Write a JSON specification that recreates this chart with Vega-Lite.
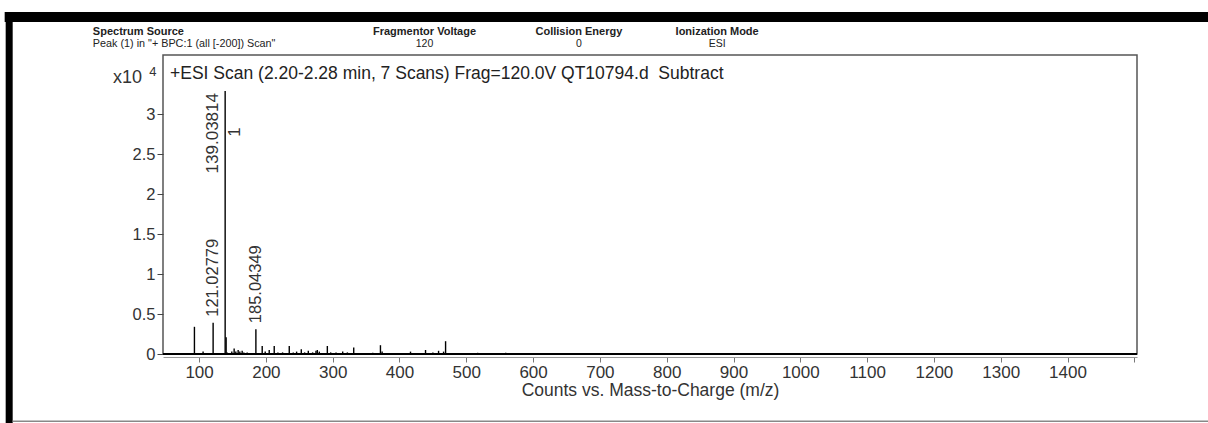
{
  "$schema": "https://vega.github.io/schema/vega-lite/v6.json",
  "width": 974,
  "height": 299,
  "autosize": {"type": "none"},
  "padding": {"left": 163, "top": 55, "right": 71, "bottom": 69},
  "background": "white",
  "config": {
    "font": "Liberation Sans",
    "view": {"stroke": "#555", "strokeWidth": 1.5}
  },
  "datasets": {
    "peaks": [
      {"mz": 52, "intensity": 0.008},
      {"mz": 60, "intensity": 0.01},
      {"mz": 70, "intensity": 0.008},
      {"mz": 80, "intensity": 0.012},
      {"mz": 93.05, "intensity": 0.34},
      {"mz": 106, "intensity": 0.03},
      {"mz": 110, "intensity": 0.01},
      {"mz": 121.02779, "intensity": 0.39, "label": "121.02779"},
      {"mz": 139.03814, "intensity": 3.2875, "label": "139.03814", "tag": "1"},
      {"mz": 140.5, "intensity": 0.21},
      {"mz": 142, "intensity": 0.02},
      {"mz": 149, "intensity": 0.03},
      {"mz": 152.5, "intensity": 0.07},
      {"mz": 155, "intensity": 0.03},
      {"mz": 158.5, "intensity": 0.05},
      {"mz": 161, "intensity": 0.03},
      {"mz": 164.5, "intensity": 0.04},
      {"mz": 167, "intensity": 0.02},
      {"mz": 172, "intensity": 0.02},
      {"mz": 185.04349, "intensity": 0.31, "label": "185.04349"},
      {"mz": 194.5, "intensity": 0.1},
      {"mz": 199, "intensity": 0.03},
      {"mz": 205, "intensity": 0.05},
      {"mz": 212.5, "intensity": 0.1},
      {"mz": 218, "intensity": 0.02},
      {"mz": 225, "intensity": 0.02},
      {"mz": 235, "intensity": 0.1},
      {"mz": 241, "intensity": 0.02},
      {"mz": 246, "intensity": 0.03},
      {"mz": 253, "intensity": 0.06},
      {"mz": 258, "intensity": 0.02},
      {"mz": 263.5, "intensity": 0.04},
      {"mz": 270, "intensity": 0.02},
      {"mz": 275, "intensity": 0.04},
      {"mz": 277, "intensity": 0.05},
      {"mz": 280, "intensity": 0.03},
      {"mz": 292, "intensity": 0.1},
      {"mz": 297, "intensity": 0.02},
      {"mz": 305, "intensity": 0.02},
      {"mz": 315, "intensity": 0.03},
      {"mz": 322, "intensity": 0.02},
      {"mz": 331.5, "intensity": 0.08},
      {"mz": 345, "intensity": 0.01},
      {"mz": 360, "intensity": 0.015},
      {"mz": 371.5, "intensity": 0.11},
      {"mz": 374, "intensity": 0.03},
      {"mz": 390, "intensity": 0.01},
      {"mz": 416.5, "intensity": 0.03},
      {"mz": 430, "intensity": 0.01},
      {"mz": 439, "intensity": 0.05},
      {"mz": 450, "intensity": 0.02},
      {"mz": 458.5, "intensity": 0.04},
      {"mz": 466, "intensity": 0.03},
      {"mz": 469, "intensity": 0.16},
      {"mz": 480, "intensity": 0.01},
      {"mz": 517, "intensity": 0.015},
      {"mz": 559, "intensity": 0.015}
    ]
  },
  "layer": [
    {
      "data": {"name": "peaks"},
      "mark": {"type": "rule", "color": "black", "strokeWidth": 1.4},
      "encoding": {
        "x": {
          "field": "mz",
          "type": "quantitative",
          "scale": {"domain": [46, 1504], "nice": false, "zero": false},
          "axis": {
            "values": [100, 200, 300, 400, 500, 600, 700, 800, 900, 1000, 1100, 1200, 1300, 1400, 1500],
            "labelExpr": "datum.value >= 1500 ? '' : '' + datum.value",
            "offset": 3,
            "grid": false,
            "domainColor": "#999",
            "tickColor": "#777",
            "tickSize": 5,
            "labelFontSize": 17,
            "labelColor": "#333",
            "labelPadding": 2,
            "title": "Counts vs. Mass-to-Charge (m/z)",
            "titleFontSize": 17.5,
            "titleFontWeight": "normal",
            "titleColor": "#333",
            "titlePadding": 1
          }
        },
        "y": {
          "field": "intensity",
          "type": "quantitative",
          "scale": {"domain": [0, 3.7375], "nice": false},
          "axis": {
            "values": [0, 0.5, 1, 1.5, 2, 2.5, 3],
            "labelExpr": "'' + datum.value",
            "grid": false,
            "domain": false,
            "tickColor": "#444",
            "tickSize": 6,
            "labelFontSize": 16.5,
            "labelColor": "#333",
            "labelPadding": 2,
            "title": null
          }
        },
        "y2": {"datum": 0}
      }
    },
    {
      "data": {"values": [{"part": "top bar"}]},
      "mark": {"type": "rect", "color": "black", "clip": false},
      "encoding": {
        "x": {"datum": -191, "type": "quantitative"},
        "x2": {"datum": 1613.5},
        "y": {"datum": 4.275, "type": "quantitative"},
        "y2": {"datum": 4.15}
      }
    },
    {
      "data": {"values": [{"part": "left bar"}]},
      "mark": {"type": "rect", "color": "black", "clip": false},
      "encoding": {
        "x": {"datum": -189.5, "type": "quantitative"},
        "x2": {"datum": -179},
        "y": {"datum": 4.275, "type": "quantitative"},
        "y2": {"datum": -0.8625}
      }
    },
    {
      "data": {"values": [{"part": "bottom line"}]},
      "mark": {"type": "rule", "color": "#888", "strokeWidth": 1.5, "clip": false},
      "encoding": {
        "x": {"datum": -179, "type": "quantitative"},
        "x2": {"datum": 1613.5},
        "y": {"datum": -0.84, "type": "quantitative"}
      }
    },
    {
      "data": {"values": [{"part": "baseline"}]},
      "mark": {"type": "rule", "color": "black", "strokeWidth": 2},
      "encoding": {
        "x": {"datum": 46, "type": "quantitative"},
        "x2": {"datum": 1504},
        "y": {"datum": 0, "type": "quantitative"}
      }
    },
    {
      "data": {"name": "peaks"},
      "transform": [{"filter": "datum.label && datum.intensity < 3"}],
      "mark": {"type": "text", "angle": 270, "align": "left", "baseline": "middle", "dx": 6, "fontSize": 16.5, "color": "#333"},
      "encoding": {"x": {"field": "mz", "type": "quantitative"}, "y": {"field": "intensity", "type": "quantitative"}, "text": {"field": "label"}}
    },
    {
      "data": {"name": "peaks"},
      "transform": [{"filter": "datum.intensity >= 3"}],
      "mark": {"type": "text", "angle": 270, "align": "right", "baseline": "middle", "dx": -2, "dy": -12, "fontSize": 17, "color": "#333"},
      "encoding": {"x": {"field": "mz", "type": "quantitative"}, "y": {"field": "intensity", "type": "quantitative"}, "text": {"field": "label"}}
    },
    {
      "data": {"name": "peaks"},
      "transform": [{"filter": "datum.tag"}],
      "mark": {"type": "text", "angle": 270, "align": "center", "baseline": "middle", "dx": -41, "dy": 10, "fontSize": 17, "color": "#333"},
      "encoding": {"x": {"field": "mz", "type": "quantitative"}, "y": {"field": "intensity", "type": "quantitative"}, "text": {"field": "tag"}}
    },
    {
      "data": {"values": [{"t": "+ESI Scan (2.20-2.28 min, 7 Scans) Frag=120.0V QT10794.d\u00a0 Subtract"}]},
      "mark": {"type": "text", "align": "left", "baseline": "middle", "fontSize": 17.5, "color": "#222"},
      "encoding": {"x": {"datum": 56.5, "type": "quantitative"}, "y": {"datum": 3.5, "type": "quantitative"}, "text": {"field": "t"}}
    },
    {
      "data": {"values": [{"t": "x10"}]},
      "mark": {"type": "text", "align": "right", "baseline": "middle", "fontSize": 18, "color": "#333"},
      "encoding": {"x": {"datum": 14.5, "type": "quantitative"}, "y": {"datum": 3.45, "type": "quantitative"}, "text": {"field": "t"}}
    },
    {
      "data": {"values": [{"t": "4"}]},
      "mark": {"type": "text", "align": "center", "baseline": "middle", "fontSize": 13, "color": "#333"},
      "encoding": {"x": {"datum": 31, "type": "quantitative"}, "y": {"datum": 3.525, "type": "quantitative"}, "text": {"field": "t"}}
    },
    {
      "data": {"values": [{"t": "Spectrum Source"}]},
      "mark": {"type": "text", "align": "left", "baseline": "middle", "fontSize": 11, "fontWeight": "bold", "color": "#222"},
      "encoding": {"x": {"datum": -59, "type": "quantitative"}, "y": {"datum": 4.031, "type": "quantitative"}, "text": {"field": "t"}}
    },
    {
      "data": {"values": [{"t": "Peak (1) in \"+ BPC:1 (all [-200]) Scan\""}]},
      "mark": {"type": "text", "align": "left", "baseline": "middle", "fontSize": 10.8, "color": "#222"},
      "encoding": {"x": {"datum": -59, "type": "quantitative"}, "y": {"datum": 3.875, "type": "quantitative"}, "text": {"field": "t"}}
    },
    {
      "data": {"values": [{"t": "Fragmentor Voltage"}]},
      "mark": {"type": "text", "align": "center", "baseline": "middle", "fontSize": 11, "fontWeight": "bold", "color": "#222"},
      "encoding": {"x": {"datum": 437.5, "type": "quantitative"}, "y": {"datum": 4.031, "type": "quantitative"}, "text": {"field": "t"}}
    },
    {
      "data": {"values": [{"t": "120"}]},
      "mark": {"type": "text", "align": "center", "baseline": "middle", "fontSize": 10.5, "color": "#222"},
      "encoding": {"x": {"datum": 437.5, "type": "quantitative"}, "y": {"datum": 3.875, "type": "quantitative"}, "text": {"field": "t"}}
    },
    {
      "data": {"values": [{"t": "Collision Energy"}]},
      "mark": {"type": "text", "align": "center", "baseline": "middle", "fontSize": 11, "fontWeight": "bold", "color": "#222"},
      "encoding": {"x": {"datum": 668.5, "type": "quantitative"}, "y": {"datum": 4.031, "type": "quantitative"}, "text": {"field": "t"}}
    },
    {
      "data": {"values": [{"t": "0"}]},
      "mark": {"type": "text", "align": "center", "baseline": "middle", "fontSize": 10.5, "color": "#222"},
      "encoding": {"x": {"datum": 668.5, "type": "quantitative"}, "y": {"datum": 3.875, "type": "quantitative"}, "text": {"field": "t"}}
    },
    {
      "data": {"values": [{"t": "Ionization Mode"}]},
      "mark": {"type": "text", "align": "center", "baseline": "middle", "fontSize": 11, "fontWeight": "bold", "color": "#222"},
      "encoding": {"x": {"datum": 875.5, "type": "quantitative"}, "y": {"datum": 4.031, "type": "quantitative"}, "text": {"field": "t"}}
    },
    {
      "data": {"values": [{"t": "ESI"}]},
      "mark": {"type": "text", "align": "center", "baseline": "middle", "fontSize": 10.5, "color": "#222"},
      "encoding": {"x": {"datum": 875.5, "type": "quantitative"}, "y": {"datum": 3.875, "type": "quantitative"}, "text": {"field": "t"}}
    }
  ]
}
